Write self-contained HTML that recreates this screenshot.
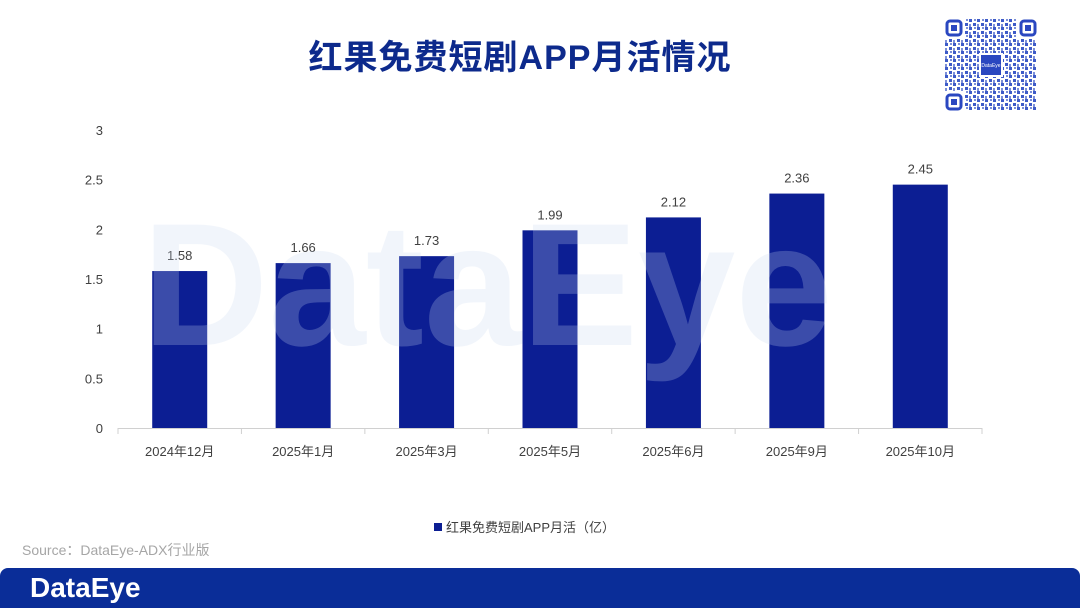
<!DOCTYPE html>
<html><head><meta charset="utf-8">
<style>
html,body{margin:0;padding:0;background:#fff;}
body{width:1080px;height:608px;position:relative;overflow:hidden;font-family:"Liberation Sans","Noto Sans CJK SC",sans-serif;}
.title{position:absolute;left:0;width:1040px;top:30px;text-align:center;font-size:34px;font-weight:bold;color:#0d2a8c;letter-spacing:1px;}
.src{position:absolute;left:22px;top:540px;font-size:14px;color:#a6a6a6;}
.footer{position:absolute;left:0;top:568px;width:1080px;height:40px;background:#0a2d98;border-radius:8px 8px 0 0;}
.logo{position:absolute;left:30px;top:572px;font-size:28px;font-weight:bold;color:#fff;}
</style></head>
<body>
<div class="title">红果免费短剧APP月活情况</div>
<svg style="position:absolute;left:945px;top:19px" width="92" height="92" viewBox="0 0 92 92">
<defs><pattern id="qp" width="8" height="8" patternUnits="userSpaceOnUse">
<rect x="0" y="0" width="3" height="3" fill="#3e5bc8"/><rect x="4" y="4" width="3" height="3" fill="#3e5bc8"/><rect x="5" y="0" width="2" height="2" fill="#7c8fd8"/><rect x="0" y="5" width="2" height="3" fill="#7c8fd8"/></pattern></defs>
<rect width="92" height="92" fill="url(#qp)"/>
<g fill="#fff"><rect x="0" y="0" width="20" height="20"/><rect x="72" y="0" width="20" height="20"/><rect x="0" y="72" width="20" height="20"/><rect x="34" y="34" width="24" height="24"/></g>
<g fill="none" stroke="#2a47c0" stroke-width="3"><rect x="2" y="2" width="14" height="14" rx="3"/><rect x="76" y="2" width="14" height="14" rx="3"/><rect x="2" y="76" width="14" height="14" rx="3"/></g>
<g fill="#2a47c0"><rect x="6" y="6" width="6" height="6"/><rect x="80" y="6" width="6" height="6"/><rect x="6" y="80" width="6" height="6"/><rect x="36" y="36" width="20" height="20"/></g>
<text x="46" y="48" font-size="5" fill="#fff" text-anchor="middle">DataEye</text>
</svg>
<svg id="chart" style="position:absolute;left:0;top:0" width="1080" height="608"></svg>
<div class="src">Source：DataEye-ADX行业版</div>
<div class="footer"></div>
<div class="logo">DataEye</div>
<script>
const categories=["2024年12月","2025年1月","2025年3月","2025年5月","2025年6月","2025年9月","2025年10月"];
const values=[1.58,1.66,1.73,1.99,2.12,2.36,2.45];
const yTicks=[0,0.5,1,1.5,2,2.5,3];
const labels=["1.58","1.66","1.73","1.99","2.12","2.36","2.45"];
const NS="http://www.w3.org/2000/svg";
const svg=document.getElementById('chart');
const x0=118,x1=982,y0=428,yTop=130,yMax=3;
const band=(x1-x0)/categories.length;
function y(v){return y0-(v/yMax)*(y0-yTop);}
function xc(i){return x0+band*(i+0.5);}
function mk(t,a,txt){const e=document.createElementNS(NS,t);for(const k in a)e.setAttribute(k,a[k]);if(txt!==undefined)e.textContent=txt;svg.appendChild(e);return e;}
yTicks.forEach(t=>{
 const e=mk('text',{x:103,y:y(t)+5,'font-size':13,fill:'#404040','text-anchor':'end'},String(t));
 
 
});
const ax=mk('line',{x1:x0,x2:x1,y1:y0+0.5,y2:y0+0.5,stroke:'#d0d0d0','stroke-width':1});


for(let i=0;i<=categories.length;i++){
 const tk=mk('line',{x1:x0+band*i,x2:x0+band*i,y1:y0,y2:y0+6,stroke:'#d0d0d0'});
 
 
}
categories.forEach((c,i)=>{
 const bw=55;
 const r=mk('rect',{x:xc(i)-bw/2,y:y(values[i]),width:bw,height:y0-y(values[i]),fill:'#0c1e93'});
 
 
 const l=mk('text',{x:xc(i),y:y(values[i])-11,'font-size':13,fill:'#404040','text-anchor':'middle'},labels[i]);
 
 
 const c2=mk('text',{x:xc(i),y:456,'font-size':13,fill:'#404040','text-anchor':'middle'},c);
 
 
});
let wm=mk('text',{x:142,y:345,'font-size':175,'font-weight':'bold',fill:'#c8d8f0','fill-opacity':0.25,'font-family':'Liberation Sans, sans-serif'},'DataEye');


const lg=mk('rect',{x:434,y:523,width:8,height:8,fill:'#0c1e93'});


const lt=mk('text',{x:446,y:532,'font-size':13,fill:'#404040'},'红果免费短剧APP月活（亿）');


</script>
</body></html>
